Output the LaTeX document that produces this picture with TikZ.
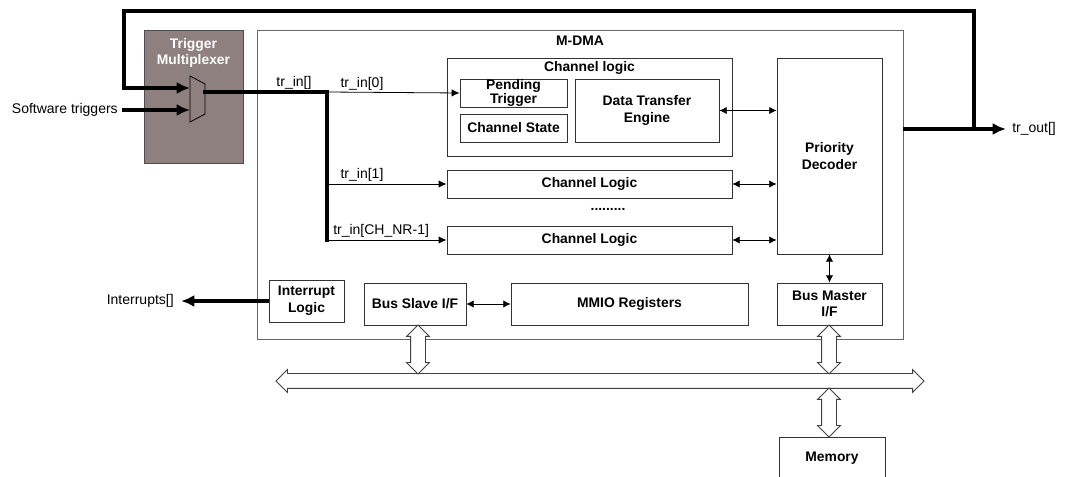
\documentclass[tikz,border=0pt]{standalone}
\usepackage{fontspec}
\setmainfont{Liberation Sans}
\usetikzlibrary{arrows.meta,calc,shapes.arrows}
\definecolor{MuxClr}{rgb}{0.56,0.5,0.5}
\definecolor{FrameClr}{rgb}{0.4,0.4,0.4}
\tikzset{
  blk/.style={draw=black!80,line width=0.6pt,inner sep=0pt,align=center,
    font=\fontsize{10.4}{12.5}\selectfont\bfseries},
  ttl/.style={inner sep=0pt,align=center,font=\fontsize{10.4}{12.5}\selectfont\bfseries},
  lbl/.style={inner sep=0pt,font=\fontsize{10.5}{12}\selectfont},
  thin arr/.style={-{Latex[length=6pt,width=5.5pt]},line width=0.6pt},
  both arr/.style={{Latex[length=5.5pt,width=5.5pt]}-{Latex[length=5.5pt,width=5.5pt]},line width=0.6pt},
  thick arr/.style={-{Latex[length=10pt,width=9pt]},line width=2.9pt},
  thick line/.style={line width=2.9pt},
  busarr/.style={double arrow,draw=black!75,fill=white,line width=0.6pt,inner sep=0pt,
    double arrow head extend=3pt,text height=5.25pt,text depth=5.25pt}
}
\begin{document}
\begin{tikzpicture}[x=0.75pt,y=-0.75pt]
\useasboundingbox (0,0) rectangle (1065,477);

\node[blk,draw=FrameClr,minimum width=484.5pt,minimum height=231.75pt] (mdma) at (580,184.5) {};
\node[ttl] (mdmatxt) at (580,41) {M-DMA};

\node[blk,fill=MuxClr,draw=black!70,minimum width=74.25pt,minimum height=99.75pt] (tmux) at (193.5,96.5) {};
\node[ttl,text=white] (tmuxtxt) at (193.5,53) {Trigger\\Multiplexer};
\draw[fill=MuxClr,draw=black,line width=0.6pt] (190,76) -- (205,84) -- (205,114) -- (190,122) -- cycle;
\coordinate (muxa) at (190,88);
\coordinate (muxb) at (190,110);
\coordinate (muxo) at (205,92);

\node[blk,minimum width=213.75pt,minimum height=73.5pt] (chl) at (589.5,107) {};
\node[ttl] (chltxt) at (589.5,68) {Channel logic};
\node[blk,minimum width=80.25pt,minimum height=21pt,font=\fontsize{10.4}{10.5}\selectfont\bfseries] (pend) at (513.5,93) {Pending\\Trigger};
\node[blk,minimum width=80.25pt,minimum height=21pt] (chst) at (513.5,128) {Channel State};
\node[blk,minimum width=108pt,minimum height=47.25pt] (dte) at (647,110.5) {Data Transfer\\Engine};
\node[blk,minimum width=78.75pt,minimum height=147pt] (prio) at (829.5,156) {Priority\\Decoder};
\node[blk,minimum width=213.75pt,minimum height=21pt] (cl1) at (589.5,184) {Channel Logic};
\node[blk,minimum width=213.75pt,minimum height=21pt] (cl2) at (589.5,240) {Channel Logic};
\node[ttl] (dots) at (608,209) {.........};

\node[blk,minimum width=56.25pt,minimum height=31.5pt] (intl) at (306.5,301) {Interrupt\\Logic};
\node[blk,minimum width=76.5pt,minimum height=31.5pt] (bslave) at (415,304) {Bus Slave I/F};
\node[blk,minimum width=177.75pt,minimum height=31.5pt] (mmio) at (629.5,304) {MMIO Registers};
\node[blk,minimum width=78.75pt,minimum height=31.5pt] (bmaster) at (829.5,304) {Bus Master\\I/F};
\node[blk,minimum width=79.5pt,minimum height=32.25pt] (mem) at (832,458.5) {Memory};

\node[lbl,anchor=east] (swtxt) at (118,110) {Software triggers};
\node[lbl,anchor=east] (irqtxt) at (174,301) {Interrupts[]};
\node[lbl,anchor=west] (outtxt) at (1012,129) {tr\_out[]};
\node[lbl] (trin) at (294,83) {tr\_in[]};
\node[lbl] (trin0) at (362,84) {tr\_in[0]};
\node[lbl] (trin1) at (362,175) {tr\_in[1]};
\node[lbl,anchor=west] (trinn) at (333,231) {tr\_in[CH\_NR-1]};

\coordinate (t0) at (327,92);
\coordinate (t1) at (327,184);
\coordinate (t2) at (327,240);
\coordinate (fb) at (974,129);
\coordinate (outend) at (1006,129);
\coordinate (irqend) at (181,301);

\draw[thick line,line cap=rect] (muxo) -- (t0) -- (t2);
\draw[thin arr] (t0) -- (pend.west);
\draw[thin arr] (t1) -- (cl1.west);
\draw[thin arr] (t2) -- (cl2.west);
\draw[thick arr] (swtxt.east) ++(4,0) -- (muxb);
\draw[thick arr] (mdma.east |- fb) -- (outend);
\draw[thick arr] (fb) |- (124,11) |- (muxa);
\draw[thick arr] (intl.west) -- (irqend);

\draw[both arr] (dte.east) -- (dte.east -| prio.west);
\draw[both arr] (cl1.east) -- (cl1.east -| prio.west);
\draw[both arr] (cl2.east) -- (cl2.east -| prio.west);
\draw[both arr] (prio.south) -- (bmaster.north);
\draw[both arr] (bslave.east) -- (mmio.west);

\node[busarr,minimum height=486pt] (bus) at (600,381) {};
\node[busarr,rotate=90,minimum height=36.75pt] (sbus) at (418,349.5) {};
\node[busarr,rotate=90,minimum height=36.75pt] (mbus) at (829,349.5) {};
\node[busarr,rotate=90,minimum height=36.75pt] (membus) at (829,412.5) {};

\end{tikzpicture}
\end{document}
